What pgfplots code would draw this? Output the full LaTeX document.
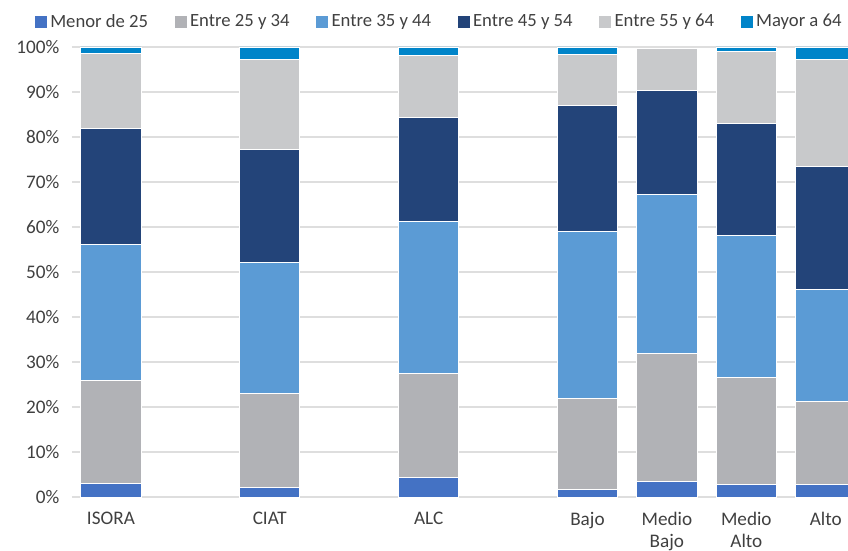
\documentclass[border=0pt]{standalone}
\usepackage{pgfplots}
\pgfplotsset{compat=1.18}
\usepackage{pgfplotstable}
\usepackage{fontspec}
\setmainfont{Carlito}
\definecolor{cMenor}{HTML}{4472C4}
\definecolor{cB}{HTML}{B1B2B6}
\definecolor{cC}{HTML}{5B9BD5}
\definecolor{cD}{HTML}{234479}
\definecolor{cE}{HTML}{C8C9CB}
\definecolor{cMayor}{HTML}{0084C9}
\definecolor{txt}{HTML}{404040}
\pgfplotstableread{
x    a    b    c    d    e    f
0   3.0 22.8 30.4 25.8 16.5 1.5
2   2.1 20.9 29.2 25.0 20.1 2.7
4   4.4 23.0 33.9 23.1 13.8 1.8
6   1.6 20.2 37.2 28.0 11.4 1.6
7   3.5 28.3 35.5 23.1  9.3 0.0
8   2.8 23.7 31.7 24.8 15.9 1.1
9   2.8 18.5 24.9 27.3 23.8 2.7
}\data
\begin{document}
\begin{tikzpicture}
\begin{axis}[
  scale only axis,
  width=582pt, height=337.5pt,
  xmin=-0.49, xmax=9.28,
  ymin=0, ymax=100,
  ybar stacked,
  bar width=0.76,
  axis line style={draw=none},
  major tick length=0pt,
  ymajorgrids,
  grid style={color=black!13, line width=1pt},
  ytick={0,10,...,100},
  yticklabels={0\%,10\%,20\%,30\%,40\%,50\%,60\%,70\%,80\%,90\%,100\%},
  xtick={0,2,4,6,7,8,9},
  xticklabels={ISORA,CIAT,ALC,Bajo,{Medio\\Bajo},{Medio\\Alto},Alto},
  xticklabel style={align=center, text=txt, font=\fontsize{14.4}{16.5}\selectfont, yshift=-8pt},
  yticklabel style={text=txt, font=\fontsize{14.4}{16}\selectfont, xshift=-6pt},
  every axis plot/.append style={draw=white, line width=0.7pt},
  legend columns=-1,
  legend style={at={(axis description cs:0,1)}, anchor=west, xshift=-31pt, yshift=19pt,
    draw=none, fill=none, font=\fontsize{14}{16}\selectfont, text=txt,
    /tikz/every odd column/.append style={column sep=0.5pt},
    /tikz/every even column/.append style={column sep=18pt}},
  legend image code/.code={\fill[#1, draw=none] (0pt,-4.5pt) rectangle (9pt,4.5pt);},
]
\addplot[fill=cMenor] table[x=x,y=a]{\data};
\addplot[fill=cB] table[x=x,y=b]{\data};
\addplot[fill=cC] table[x=x,y=c]{\data};
\addplot[fill=cD] table[x=x,y=d]{\data};
\addplot[fill=cE] table[x=x,y=e]{\data};
\addplot[fill=cMayor] table[x=x,y=f]{\data};
\legend{Menor de 25,Entre 25 y 34,Entre 35 y 44,Entre 45 y 54,Entre 55 y 64,Mayor a 64}
\end{axis}
\pgfresetboundingbox
\path[use as bounding box] ([xshift=-54pt,yshift=-40.5pt]current axis.south west) rectangle ([yshift=35.25pt]current axis.north east);
\end{tikzpicture}
\end{document}
